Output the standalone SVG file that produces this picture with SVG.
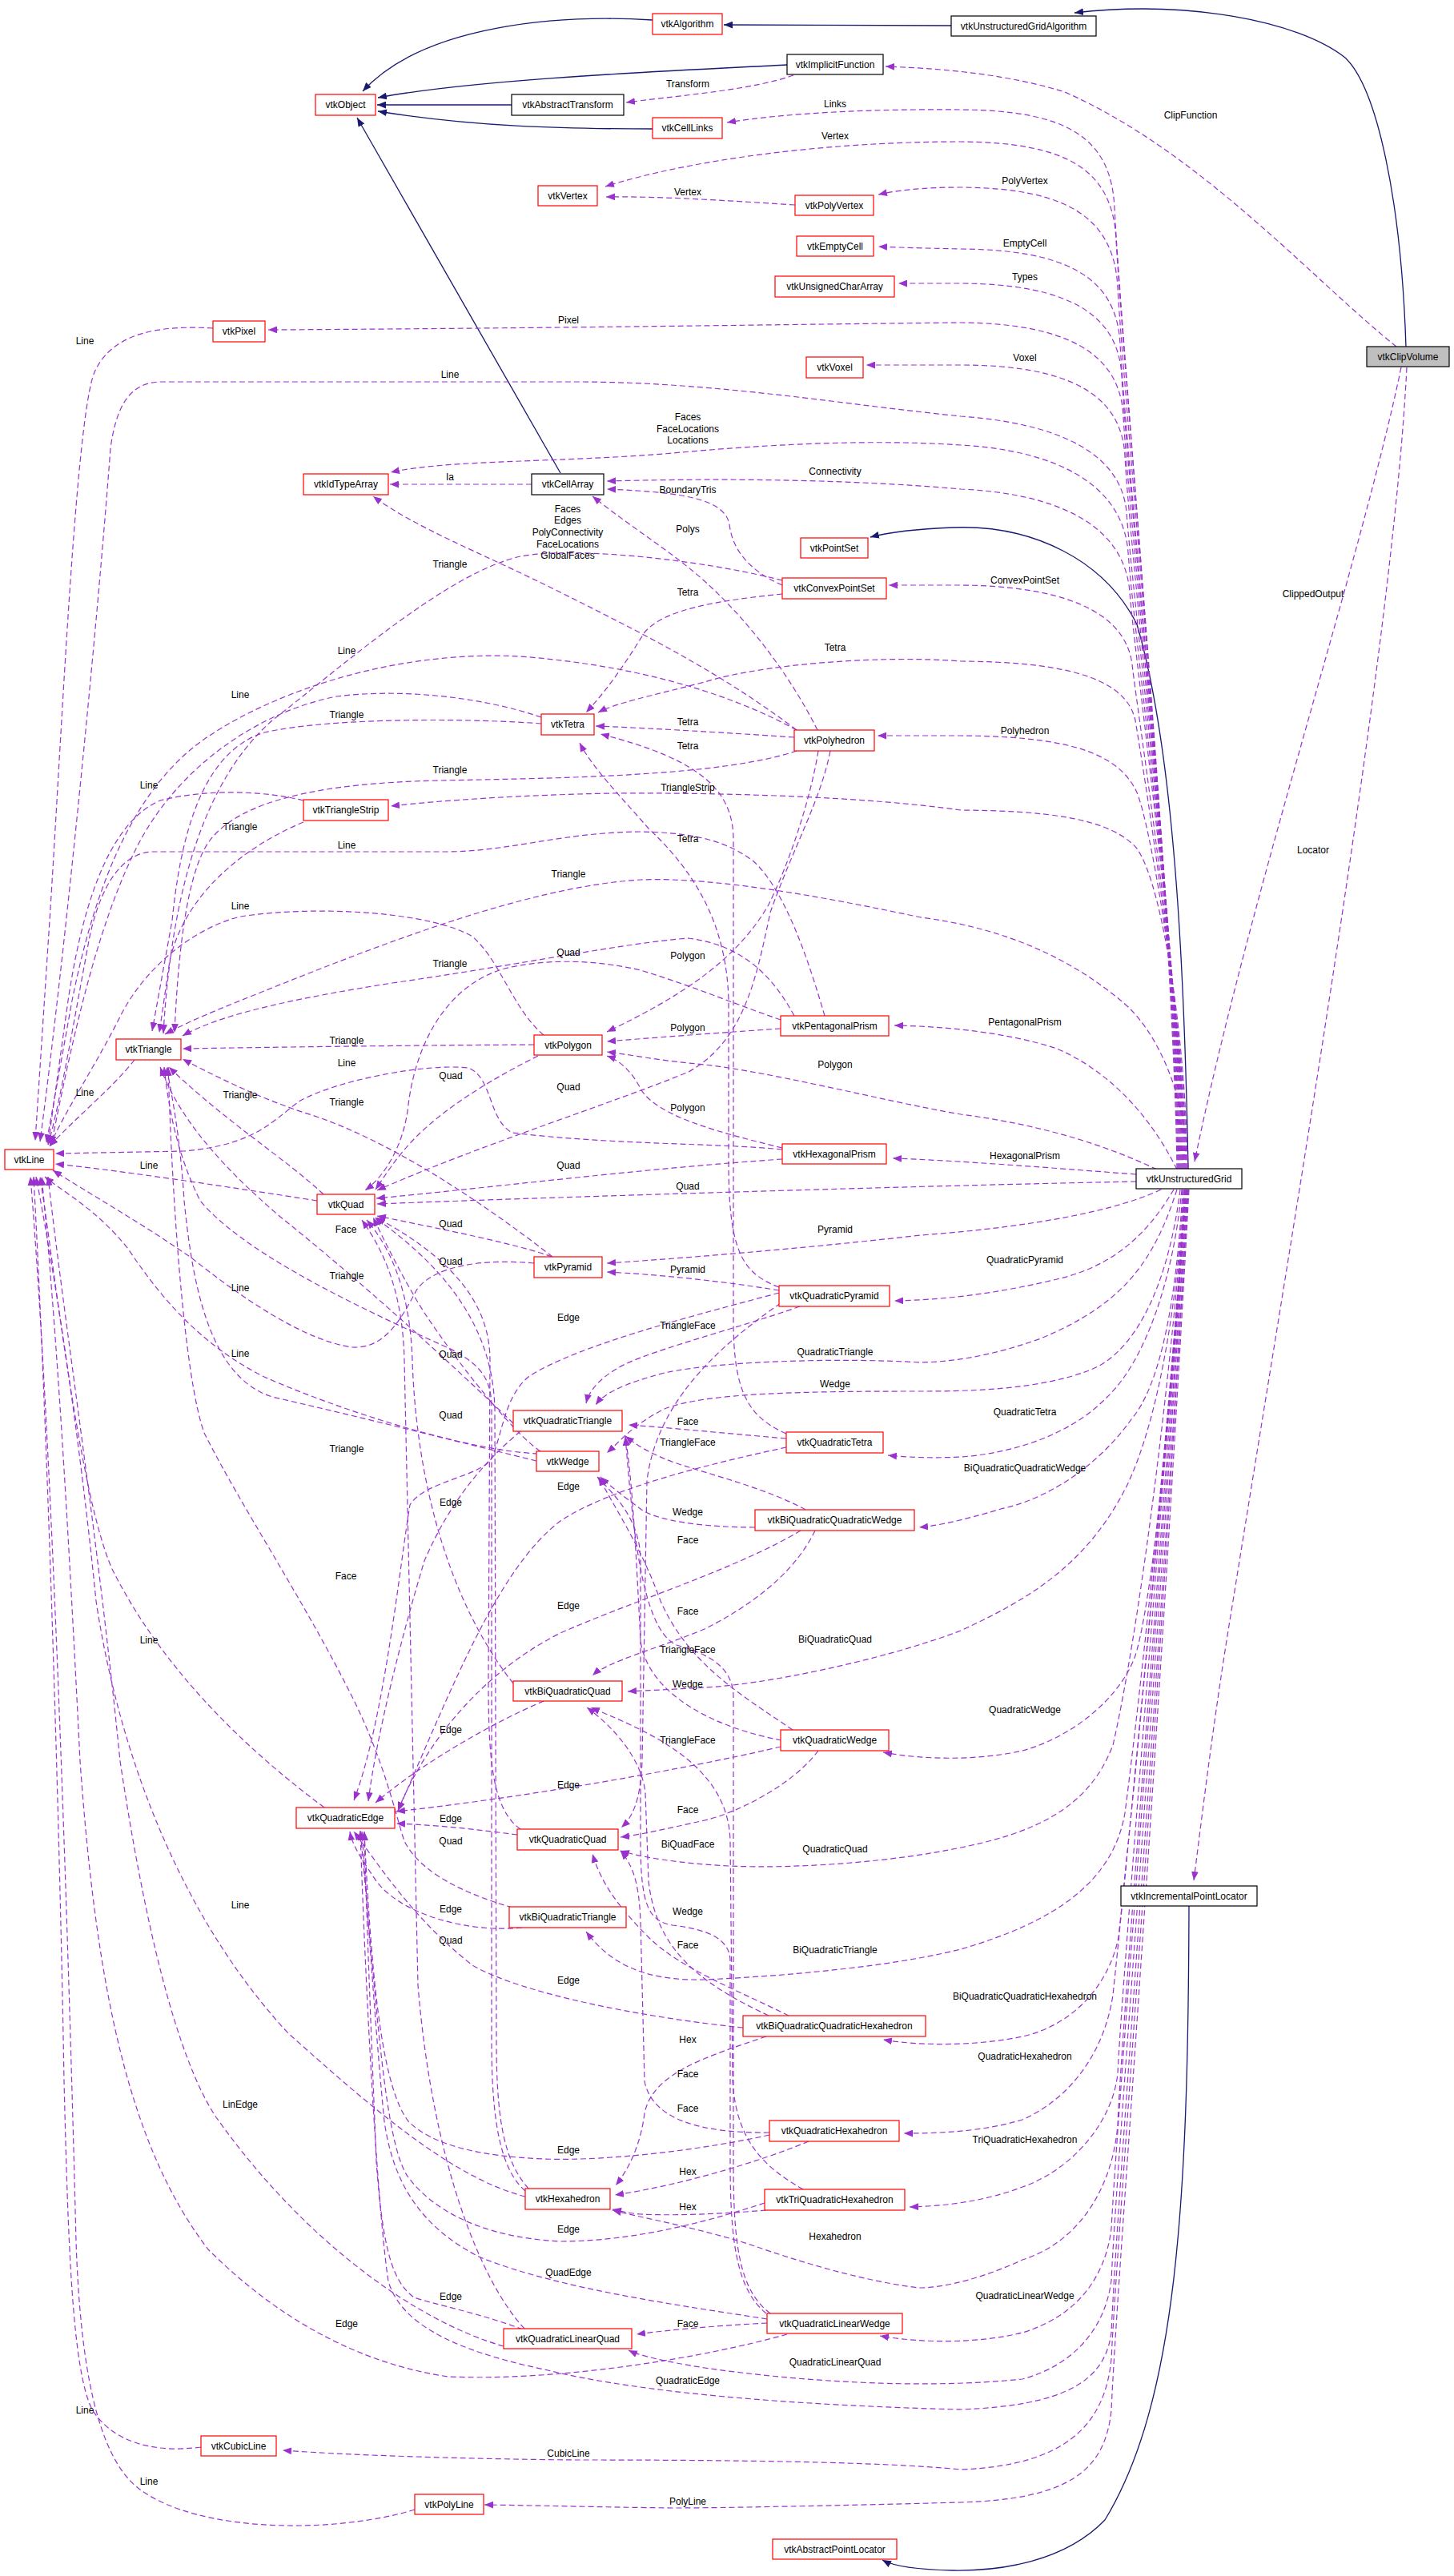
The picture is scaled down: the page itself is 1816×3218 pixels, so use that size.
<svg xmlns="http://www.w3.org/2000/svg" width="1816" height="3218" viewBox="0 0 1816 3218">
<style>
.r{fill:#fff;stroke:#ff0000;stroke-width:1.2}
.k{fill:#fff;stroke:#000;stroke-width:1.2}
.g{fill:#bfbfbf;stroke:#000;stroke-width:1.2}
text{font-family:"Liberation Sans",Arial,sans-serif;font-size:12px;text-anchor:middle;fill:#000}
.d{fill:none;stroke:#9a32cd;stroke-width:1.2;stroke-dasharray:7,4;marker-end:url(#ap)}
.s{fill:none;stroke:#191970;stroke-width:1.3;marker-end:url(#an)}
</style>
<defs>
<marker id="ap" viewBox="0 0 10 8" refX="10" refY="4" markerWidth="11" markerHeight="9" markerUnits="userSpaceOnUse" orient="auto"><path d="M0,0 L10,4 L0,8 z" fill="#9a32cd"/></marker>
<marker id="an" viewBox="0 0 10 8" refX="10" refY="4" markerWidth="11" markerHeight="9" markerUnits="userSpaceOnUse" orient="auto"><path d="M0,0 L10,4 L0,8 z" fill="#191970"/></marker>
</defs>
<rect width="1816" height="3218" fill="#fff"/>
<g id="edges">
<!-- inheritance -->
<path class="s" d="M815,25 C700,18 530,30 453,114"/>
<path class="s" d="M983,81 C850,88 600,98 472,122"/>
<path class="s" d="M639,131 L471,131"/>
<path class="s" d="M815,161 C700,161 590,158 472,139"/>
<path class="s" d="M1188,32 L904,31"/>
<path class="s" d="M1756,433 C1750,250 1720,110 1680,72 C1620,25 1480,0 1342,16"/>
<path class="s" d="M700,591 L446,147"/>
<path class="s" d="M1484,1460 C1480,1250 1470,950 1420,780 C1380,700 1290,655 1190,659 C1140,661 1110,665 1087,671"/>
<path class="s" d="M1485,2381 C1484,2750 1470,3000 1380,3148 C1330,3200 1250,3212 1190,3211 C1140,3210 1115,3205 1102,3198"/>
<!-- ClipVolume -->
<path class="d" d="M1744,433 C1640,350 1500,190 1330,115 C1250,90 1160,85 1106,83"/>
<path class="d" d="M1750,459 C1700,700 1560,1120 1492,1451"/>
<path class="d" d="M1757,459 C1740,800 1620,1500 1540,2000 C1515,2150 1500,2280 1491,2349"/>
<!-- UG upper bundle -->
<path class="d" d="M1470,1460 C1466,1150 1400,420 1392,260 C1388,170 1330,138 1200,137 C1100,136 990,140 908,153"/>
<path class="d" d="M1471,1460 C1467,1150 1402,450 1394,300 C1390,210 1330,178 1200,177 C1030,177 860,200 756,233"/>
<path class="d" d="M1472,1460 C1468,1160 1404,500 1396,360 C1392,270 1330,235 1200,234 C1150,234 1120,238 1097,243"/>
<path class="d" d="M1473,1460 C1469,1170 1406,560 1399,430 C1395,345 1330,312 1200,311 C1150,310 1120,309 1097,308"/>
<path class="d" d="M1474,1460 C1470,1180 1408,600 1401,470 C1397,390 1330,355 1200,354 L1122,354"/>
<path class="d" d="M1475,1460 C1471,1190 1410,650 1403,520 C1399,440 1330,404 1200,403 C1000,405 700,410 335,412"/>
<path class="d" d="M1476,1460 C1472,1200 1412,700 1405,570 C1401,490 1330,456 1200,456 L1082,456"/>
<path class="d" d="M1477,1460 C1473,1210 1414,740 1407,640 C1400,560 1310,528 1200,520 C1050,505 900,478 727,477 L200,477 C160,478 145,510 138,560 C120,800 80,1200 50,1426"/>
<path class="d" d="M1478,1460 C1474,1220 1416,790 1409,690 C1402,600 1310,562 1200,556 C1080,548 950,556 840,566 C700,578 560,574 488,590"/>
<path class="d" d="M1479,1460 C1475,1230 1418,830 1411,740 C1404,650 1310,616 1200,611 C1100,602 950,596 758,601"/>
<path class="d" d="M1480,1460 C1477,1250 1422,900 1414,830 C1405,760 1320,732 1200,731 L1110,731"/>
<path class="d" d="M1481,1460 C1478,1270 1428,960 1418,900 C1405,840 1310,827 1200,826 C1100,818 950,830 880,852 C810,870 770,878 747,890"/>
<path class="d" d="M1482,1460 C1480,1290 1440,1040 1420,990 C1395,935 1320,920 1200,919 L1096,919"/>
<path class="d" d="M1483,1460 C1482,1320 1455,1110 1420,1060 C1385,1020 1300,1013 1200,1012 C1080,995 900,990 765,991 C650,993 550,1000 488,1007"/>
<path class="d" d="M1484,1460 C1483,1380 1450,1290 1400,1250 C1340,1200 1260,1160 1150,1146 C1050,1125 900,1095 800,1099 C650,1108 450,1190 300,1250 C260,1266 228,1280 206,1292"/>
<path class="d" d="M1470,1461 C1440,1400 1390,1340 1320,1310 C1260,1290 1180,1282 1117,1281"/>
<path class="d" d="M1445,1461 C1380,1430 1300,1405 1200,1392 C1100,1375 950,1335 860,1328 C820,1324 790,1318 758,1314"/>
<path class="d" d="M1419,1467 C1300,1458 1200,1450 1115,1447"/>
<path class="d" d="M1419,1476 C1200,1480 700,1495 471,1504"/>
<!-- UG lower bundle -->
<path class="d" d="M1450,1486 C1400,1510 1300,1532 1150,1543 C1000,1560 850,1572 758,1578"/>
<path class="d" d="M1466,1486 C1440,1530 1400,1580 1320,1598 C1250,1615 1180,1624 1117,1625"/>
<path class="d" d="M1470,1486 C1440,1580 1400,1630 1300,1672 C1250,1690 1200,1701 1150,1702 C1050,1696 900,1700 830,1715 C780,1728 755,1740 744,1755"/>
<path class="d" d="M1474,1486 C1460,1600 1420,1690 1360,1712 C1300,1735 1220,1738 1150,1738 C1000,1738 880,1740 830,1760 C790,1780 775,1800 758,1815"/>
<path class="d" d="M1476,1486 C1465,1600 1430,1700 1383,1745 C1340,1790 1270,1815 1200,1820 C1160,1822 1130,1820 1109,1818"/>
<path class="d" d="M1477,1486 C1470,1620 1450,1730 1413,1773 C1380,1820 1320,1870 1250,1885 C1200,1900 1170,1906 1148,1908"/>
<path class="d" d="M1478,1486 C1470,1650 1440,1800 1400,1870 C1350,1960 1280,2000 1200,2037 C1100,2075 950,2105 880,2108 C830,2111 800,2112 784,2113"/>
<path class="d" d="M1479,1486 C1470,1700 1440,2000 1418,2068 C1400,2120 1340,2170 1277,2187 C1220,2200 1150,2198 1103,2189"/>
<path class="d" d="M1480,1486 C1460,1750 1420,2050 1390,2180 C1360,2260 1290,2290 1200,2308 C1120,2325 1000,2335 910,2331 C850,2328 800,2320 775,2312"/>
<path class="d" d="M1480,1486 C1460,1800 1420,2150 1405,2265 C1390,2350 1320,2400 1200,2435 C1100,2460 950,2470 880,2473 C800,2475 760,2450 732,2413"/>
<path class="d" d="M1481,1486 C1455,1850 1410,2300 1397,2420 C1385,2480 1340,2530 1277,2544 C1220,2556 1150,2556 1103,2548"/>
<path class="d" d="M1481,1486 C1450,1900 1400,2400 1390,2492 C1380,2560 1340,2620 1277,2648 C1230,2662 1180,2665 1129,2665"/>
<path class="d" d="M1482,1486 C1445,1950 1400,2500 1396,2590 C1390,2650 1340,2710 1277,2732 C1230,2750 1180,2756 1136,2757"/>
<path class="d" d="M1482,1486 C1445,2000 1400,2550 1396,2654 C1390,2730 1350,2800 1277,2823 C1230,2845 1180,2858 1148,2858 C1080,2850 1000,2826 940,2805 C880,2785 800,2770 765,2761"/>
<path class="d" d="M1483,1486 C1440,2100 1395,2650 1388,2784 C1380,2850 1340,2895 1277,2914 C1220,2928 1150,2927 1099,2918"/>
<path class="d" d="M1483,1486 C1440,2150 1395,2700 1388,2849 C1380,2910 1340,2955 1277,2972 C1150,2985 1000,2975 880,2958 C830,2950 800,2943 785,2936"/>
<path class="d" d="M1484,1486 C1440,2200 1395,2750 1388,2914 C1380,2975 1330,3005 1200,3010 C1000,3005 800,2990 680,2960 C560,2935 500,2900 485,2850 C470,2750 455,2450 450,2287"/>
<path class="d" d="M1484,1486 C1440,2250 1395,2800 1388,2947 C1380,3030 1330,3080 1200,3085 C1100,3075 900,3073 719,3073 C600,3072 450,3068 353,3061"/>
<path class="d" d="M1485,1486 C1440,2300 1395,2850 1388,3011 C1380,3090 1330,3122 1200,3126 C1050,3130 900,3133 842,3133 C750,3132 680,3130 605,3129"/>
<!-- other members -->
<path class="d" d="M991,94 C940,112 860,118 782,128"/>
<path class="d" d="M993,256 C900,250 820,245 757,246"/>
<path class="d" d="M266,410 C200,406 140,415 118,465 C95,520 78,900 62,1150 L44,1425"/>
<path class="d" d="M664,605 L487,605"/>
<path class="d" d="M977,731 C940,715 915,690 911,655 C905,625 860,615 758,611"/>
<path class="d" d="M1021,912 C990,850 940,780 880,726 C840,690 790,660 740,620"/>
<path class="d" d="M995,912 C900,840 800,790 700,740 C600,690 520,660 466,620"/>
<path class="d" d="M977,725 C880,700 720,682 650,695 C560,715 430,830 340,900 C260,970 215,1100 204,1291"/>
<path class="d" d="M977,742 C900,750 830,760 805,790 C780,830 760,860 732,890"/>
<path class="d" d="M995,912 C900,860 780,830 650,820 C500,812 350,860 260,920 C170,980 120,1100 90,1250 L58,1428"/>
<path class="d" d="M676,896 C600,870 500,860 420,870 C320,890 220,960 170,1060 C120,1160 90,1300 64,1430"/>
<path class="d" d="M676,904 C600,898 420,895 330,915 C250,940 225,1050 215,1150 L190,1288"/>
<path class="d" d="M992,921 C900,915 820,910 744,907"/>
<path class="d" d="M982,1791 C935,1770 916,1740 916,1650 L916,1050 C916,990 880,950 750,917"/>
<path class="d" d="M973,1608 C925,1590 910,1560 910,1450 L910,1250 C908,1170 880,1100 810,1035 C780,1000 740,960 724,928"/>
<path class="d" d="M995,938 C900,970 700,972 550,975 C400,978 300,1000 262,1050 C232,1090 222,1200 218,1290"/>
<path class="d" d="M379,1000 C330,988 260,985 200,1000 C130,1030 100,1150 85,1250 L60,1430"/>
<path class="d" d="M379,1027 C300,1060 230,1120 212,1200 L199,1290"/>
<path class="d" d="M1030,1269 C1010,1200 980,1110 940,1075 C900,1045 850,1040 800,1039 C700,1040 640,1063 560,1064 L190,1064 C150,1066 125,1110 112,1170 C95,1260 75,1380 60,1430"/>
<path class="d" d="M992,1269 C960,1210 920,1180 860,1172 C780,1178 650,1205 490,1228 C350,1250 270,1270 228,1294"/>
<path class="d" d="M975,1274 C920,1255 860,1230 800,1212 C740,1198 680,1198 630,1210 C560,1230 520,1300 510,1380 C505,1430 480,1470 456,1487"/>
<path class="d" d="M1037,938 C1025,1000 990,1060 962,1140 C945,1220 930,1300 860,1339 C760,1380 600,1430 471,1487"/>
<path class="d" d="M1022,938 C1012,1000 985,1080 960,1130 C920,1200 850,1245 758,1289"/>
<path class="d" d="M679,1293 C640,1260 625,1200 590,1170 C540,1140 400,1130 300,1145 C240,1160 180,1210 150,1270 C120,1330 80,1390 62,1432"/>
<path class="d" d="M667,1305 C500,1306 350,1308 228,1310"/>
<path class="d" d="M672,1319 C620,1345 560,1380 520,1420 C495,1445 480,1470 469,1486"/>
<path class="d" d="M975,1285 C900,1290 820,1296 758,1301"/>
<path class="d" d="M977,1434 C900,1415 820,1395 800,1360 C790,1340 775,1325 758,1319"/>
<path class="d" d="M977,1436 C900,1428 760,1430 640,1415 C610,1400 615,1345 585,1334 C530,1328 420,1350 375,1375 C340,1400 320,1430 230,1438 L69,1441"/>
<path class="d" d="M977,1448 C800,1460 600,1485 470,1497"/>
<path class="d" d="M168,1324 C140,1360 90,1400 62,1432"/>
<path class="d" d="M396,1500 C300,1485 150,1462 69,1454"/>
<path class="d" d="M404,1492 C360,1450 280,1400 211,1333"/>
<path class="d" d="M689,1570 C650,1555 550,1535 471,1519"/>
<path class="d" d="M690,1570 C600,1500 480,1420 380,1390 C320,1370 270,1345 228,1323"/>
<path class="d" d="M667,1578 C600,1572 540,1582 520,1612 C500,1650 480,1685 440,1683 C380,1675 300,1620 240,1572 C180,1530 110,1490 66,1462"/>
<path class="d" d="M973,1612 C900,1600 820,1592 758,1589"/>
<path class="d" d="M999,1632 C920,1660 800,1690 770,1710 C745,1725 735,1740 732,1753"/>
<path class="d" d="M973,1615 C880,1640 720,1680 660,1720 C630,1745 628,1790 614,1822 C600,1845 530,1850 512,1880 C500,1950 480,2150 442,2249"/>
<path class="d" d="M670,1825 C600,1808 450,1770 340,1745 C260,1720 240,1600 230,1500 C225,1420 215,1370 208,1333"/>
<path class="d" d="M672,1816 C580,1812 420,1760 330,1720 C250,1680 200,1620 160,1560 C120,1510 80,1490 56,1470"/>
<path class="d" d="M675,1813 C640,1790 570,1700 530,1640 C505,1600 485,1560 466,1521"/>
<path class="d" d="M641,1778 C560,1700 450,1600 350,1520 C280,1460 225,1400 200,1333"/>
<path class="d" d="M650,1788 C600,1830 560,1880 530,1950 C500,2050 470,2170 460,2250"/>
<path class="d" d="M982,1797 C900,1790 830,1783 785,1780"/>
<path class="d" d="M982,1808 C880,1830 760,1860 700,1900 C620,1960 560,2120 497,2262"/>
<path class="d" d="M1006,1886 C960,1860 880,1840 842,1827 C810,1815 795,1805 781,1794"/>
<path class="d" d="M943,1908 C880,1908 820,1900 800,1885 C780,1870 760,1855 750,1845"/>
<path class="d" d="M1018,1912 C990,1970 930,2010 880,2035 C820,2060 760,2075 740,2093"/>
<path class="d" d="M1000,1912 C920,1960 790,2000 700,2040 C600,2090 530,2180 497,2262"/>
<path class="d" d="M975,1628 C900,1680 820,1750 808,1850 L802,2200 C800,2250 790,2270 776,2283"/>
<path class="d" d="M641,2103 C560,2000 520,1850 515,1700 C512,1600 480,1550 458,1524"/>
<path class="d" d="M679,2125 C620,2150 530,2200 469,2252"/>
<path class="d" d="M976,2174 C900,2160 810,2120 800,2050 C795,1950 790,1850 781,1795"/>
<path class="d" d="M990,2161 C930,2120 860,2080 825,2000 C800,1930 765,1880 748,1845"/>
<path class="d" d="M1022,2187 C990,2230 920,2265 880,2274 C830,2285 800,2292 775,2295"/>
<path class="d" d="M975,2182 C900,2200 700,2240 495,2263"/>
<path class="d" d="M646,2292 C600,2286 550,2280 495,2278"/>
<path class="d" d="M650,2285 C615,2260 610,2200 610,2100 L612,1700 C612,1640 580,1580 470,1521"/>
<path class="d" d="M652,2408 C580,2415 500,2390 470,2350 C450,2320 440,2305 437,2288"/>
<path class="d" d="M640,2383 C560,2360 520,2330 505,2300 C495,2270 480,2200 440,2120 C380,2000 300,1880 255,1790 C230,1720 215,1500 210,1333"/>
<path class="d" d="M960,2518 C880,2480 820,2440 810,2350 L806,2240 C802,2200 770,2160 733,2133"/>
<path class="d" d="M985,2518 C930,2490 850,2460 810,2420 C770,2380 750,2350 740,2316"/>
<path class="d" d="M928,2533 C800,2520 650,2490 590,2455 C520,2400 480,2340 442,2288"/>
<path class="d" d="M957,2544 C880,2570 815,2590 805,2640 C800,2680 785,2710 769,2730"/>
<path class="d" d="M961,2664 C880,2665 815,2650 805,2600 L800,2400 C798,2350 790,2330 775,2312"/>
<path class="d" d="M1010,2675 C950,2700 850,2730 768,2742"/>
<path class="d" d="M961,2667 C880,2685 760,2700 680,2697 C600,2694 540,2680 510,2650 C480,2610 465,2500 455,2288"/>
<path class="d" d="M1003,2735 C960,2710 920,2680 915,2600 L912,2300 C910,2200 800,2160 738,2133"/>
<path class="d" d="M957,2761 C900,2766 840,2768 800,2766 C785,2765 775,2762 765,2760"/>
<path class="d" d="M955,2752 C900,2770 800,2800 700,2800 C600,2795 540,2760 510,2720 C480,2680 470,2500 450,2288"/>
<path class="d" d="M656,2744 C560,2720 450,2620 360,2540 C230,2400 150,2200 120,2000 C100,1800 70,1600 45,1470"/>
<path class="d" d="M660,2734 C630,2700 620,2650 620,2550 L618,1760 C616,1680 580,1600 468,1521"/>
<path class="d" d="M656,2737 C625,2710 614,2650 614,2550 L614,1760 C614,1720 600,1700 540,1675 C420,1620 300,1560 250,1500 C220,1440 210,1380 205,1333"/>
<path class="d" d="M957,2890 C920,2860 912,2800 912,2700 L912,2450 C912,2420 880,2410 840,2405 C810,2400 800,2380 800,2300 L800,1950 C800,1900 770,1870 746,1845"/>
<path class="d" d="M962,2890 C922,2860 916,2800 916,2700 L916,2120 C916,2080 880,2065 845,2055 C800,2035 790,1900 781,1795"/>
<path class="d" d="M958,2902 C900,2905 840,2910 795,2916"/>
<path class="d" d="M958,2897 C850,2880 700,2860 600,2820 C520,2780 490,2720 480,2650 C470,2550 460,2400 452,2288"/>
<path class="d" d="M983,2916 C880,2945 700,2975 560,2969 C430,2950 330,2880 260,2810 C160,2680 120,2480 100,2200 C85,1900 70,1650 52,1470"/>
<path class="d" d="M653,2910 C600,2890 540,2878 517,2870 C490,2850 478,2810 470,2700 C462,2500 458,2400 455,2288"/>
<path class="d" d="M629,2931 C520,2900 380,2800 270,2645 C220,2570 180,2400 150,2200 C120,1900 80,1650 60,1470"/>
<path class="d" d="M655,2909 C600,2850 540,2700 522,2480 L505,1700 C503,1600 470,1550 452,1524"/>
<path class="d" d="M405,2258 C300,2180 200,2080 140,1960 C100,1870 70,1600 50,1470"/>
<path class="d" d="M251,3057 C190,3065 140,3050 115,3010 C90,2960 85,2800 80,2600 C75,2300 60,1800 42,1470"/>
<path class="d" d="M518,3135 C420,3165 250,3165 175,3110 C120,3070 100,2950 95,2800 C85,2400 65,1800 38,1470"/>
</g>
<g id="labels">
<text x="1487" y="148">ClipFunction</text>
<text x="1640" y="746">ClippedOutput</text>
<text x="1640" y="1066">Locator</text>
<text x="859" y="109">Transform</text>
<text x="1043" y="134">Links</text>
<text x="1043" y="174">Vertex</text>
<text x="859" y="244">Vertex</text>
<text x="1280" y="230">PolyVertex</text>
<text x="1280" y="308">EmptyCell</text>
<text x="1280" y="350">Types</text>
<text x="710" y="404">Pixel</text>
<text x="106" y="430">Line</text>
<text x="1280" y="451">Voxel</text>
<text x="562" y="472">Line</text>
<text x="859" y="525">Faces</text>
<text x="859" y="540">FaceLocations</text>
<text x="859" y="554">Locations</text>
<text x="1043" y="593">Connectivity</text>
<text x="562" y="600">Ia</text>
<text x="859" y="616">BoundaryTris</text>
<text x="709" y="640">Faces</text>
<text x="709" y="654">Edges</text>
<text x="709" y="669">PolyConnectivity</text>
<text x="709" y="684">FaceLocations</text>
<text x="709" y="698">GlobalFaces</text>
<text x="859" y="665">Polys</text>
<text x="562" y="709">Triangle</text>
<text x="1280" y="729">ConvexPointSet</text>
<text x="859" y="744">Tetra</text>
<text x="1043" y="813">Tetra</text>
<text x="433" y="817">Line</text>
<text x="300" y="872">Line</text>
<text x="433" y="897">Triangle</text>
<text x="859" y="906">Tetra</text>
<text x="1280" y="917">Polyhedron</text>
<text x="859" y="936">Tetra</text>
<text x="562" y="966">Triangle</text>
<text x="186" y="985">Line</text>
<text x="859" y="988">TriangleStrip</text>
<text x="300" y="1037">Triangle</text>
<text x="859" y="1052">Tetra</text>
<text x="433" y="1060">Line</text>
<text x="710" y="1096">Triangle</text>
<text x="300" y="1136">Line</text>
<text x="710" y="1194">Quad</text>
<text x="859" y="1198">Polygon</text>
<text x="562" y="1208">Triangle</text>
<text x="1280" y="1281">PentagonalPrism</text>
<text x="859" y="1288">Polygon</text>
<text x="433" y="1304">Triangle</text>
<text x="433" y="1332">Line</text>
<text x="1043" y="1334">Polygon</text>
<text x="563" y="1348">Quad</text>
<text x="710" y="1362">Quad</text>
<text x="106" y="1369">Line</text>
<text x="300" y="1372">Triangle</text>
<text x="433" y="1381">Triangle</text>
<text x="859" y="1388">Polygon</text>
<text x="1280" y="1448">HexagonalPrism</text>
<text x="710" y="1460">Quad</text>
<text x="186" y="1460">Line</text>
<text x="859" y="1486">Quad</text>
<text x="563" y="1533">Quad</text>
<text x="1043" y="1540">Pyramid</text>
<text x="432" y="1540">Face</text>
<text x="1280" y="1578">QuadraticPyramid</text>
<text x="563" y="1580">Quad</text>
<text x="859" y="1590">Pyramid</text>
<text x="433" y="1598">Triangle</text>
<text x="300" y="1613">Line</text>
<text x="710" y="1650">Edge</text>
<text x="859" y="1660">TriangleFace</text>
<text x="1043" y="1693">QuadraticTriangle</text>
<text x="300" y="1695">Line</text>
<text x="563" y="1696">Quad</text>
<text x="1043" y="1733">Wedge</text>
<text x="1280" y="1768">QuadraticTetra</text>
<text x="563" y="1772">Quad</text>
<text x="859" y="1780">Face</text>
<text x="859" y="1806">TriangleFace</text>
<text x="433" y="1814">Triangle</text>
<text x="1280" y="1838">BiQuadraticQuadraticWedge</text>
<text x="710" y="1861">Edge</text>
<text x="563" y="1881">Edge</text>
<text x="859" y="1893">Wedge</text>
<text x="859" y="1928">Face</text>
<text x="432" y="1973">Face</text>
<text x="710" y="2010">Edge</text>
<text x="859" y="2017">Face</text>
<text x="1043" y="2052">BiQuadraticQuad</text>
<text x="186" y="2053">Line</text>
<text x="859" y="2065">TriangleFace</text>
<text x="859" y="2108">Wedge</text>
<text x="1280" y="2140">QuadraticWedge</text>
<text x="563" y="2165">Edge</text>
<text x="859" y="2178">TriangleFace</text>
<text x="710" y="2234">Edge</text>
<text x="859" y="2265">Face</text>
<text x="563" y="2276">Edge</text>
<text x="563" y="2304">Quad</text>
<text x="859" y="2308">BiQuadFace</text>
<text x="1043" y="2314">QuadraticQuad</text>
<text x="300" y="2384">Line</text>
<text x="563" y="2389">Edge</text>
<text x="859" y="2392">Wedge</text>
<text x="563" y="2428">Quad</text>
<text x="859" y="2434">Face</text>
<text x="1043" y="2440">BiQuadraticTriangle</text>
<text x="710" y="2478">Edge</text>
<text x="1280" y="2498">BiQuadraticQuadraticHexahedron</text>
<text x="859" y="2552">Hex</text>
<text x="1280" y="2573">QuadraticHexahedron</text>
<text x="859" y="2595">Face</text>
<text x="300" y="2633">LinEdge</text>
<text x="859" y="2638">Face</text>
<text x="1280" y="2677">TriQuadraticHexahedron</text>
<text x="710" y="2690">Edge</text>
<text x="859" y="2717">Hex</text>
<text x="859" y="2761">Hex</text>
<text x="710" y="2789">Edge</text>
<text x="1043" y="2798">Hexahedron</text>
<text x="710" y="2843">QuadEdge</text>
<text x="1280" y="2872">QuadraticLinearWedge</text>
<text x="563" y="2873">Edge</text>
<text x="859" y="2907">Face</text>
<text x="433" y="2907">Edge</text>
<text x="1043" y="2955">QuadraticLinearQuad</text>
<text x="859" y="2978">QuadraticEdge</text>
<text x="106" y="3015">Line</text>
<text x="710" y="3069">CubicLine</text>
<text x="186" y="3104">Line</text>
<text x="859" y="3129">PolyLine</text>
</g>
<g id="nodes">
<g id="vtkAlgorithm"><rect class="r" x="815" y="17" width="87" height="26"/><text x="858.5" y="34">vtkAlgorithm</text></g>
<g id="vtkUnstructuredGridAlgorithm"><rect class="k" x="1188" y="20" width="181" height="25"/><text x="1278.5" y="36.5">vtkUnstructuredGridAlgorithm</text></g>
<g id="vtkImplicitFunction"><rect class="k" x="983" y="68" width="120" height="25"/><text x="1043" y="84.5">vtkImplicitFunction</text></g>
<g id="vtkObject"><rect class="r" x="394" y="118" width="75" height="26"/><text x="431.5" y="135">vtkObject</text></g>
<g id="vtkAbstractTransform"><rect class="k" x="639" y="118" width="140" height="26"/><text x="709" y="135">vtkAbstractTransform</text></g>
<g id="vtkCellLinks"><rect class="r" x="815" y="147" width="87" height="26"/><text x="858.5" y="164">vtkCellLinks</text></g>
<g id="vtkVertex"><rect class="r" x="672" y="232" width="74" height="25"/><text x="709" y="248.5">vtkVertex</text></g>
<g id="vtkPolyVertex"><rect class="r" x="993" y="244" width="98" height="25"/><text x="1042" y="260.5">vtkPolyVertex</text></g>
<g id="vtkEmptyCell"><rect class="r" x="995" y="295" width="96" height="25"/><text x="1043" y="311.5">vtkEmptyCell</text></g>
<g id="vtkUnsignedCharArray"><rect class="r" x="968" y="345" width="149" height="26"/><text x="1042.5" y="362">vtkUnsignedCharArray</text></g>
<g id="vtkPixel"><rect class="r" x="266" y="401" width="65" height="26"/><text x="298.5" y="418">vtkPixel</text></g>
<g id="vtkClipVolume"><rect class="g" x="1707" y="433" width="103" height="25"/><text x="1758.5" y="449.5">vtkClipVolume</text></g>
<g id="vtkVoxel"><rect class="r" x="1007" y="446" width="71" height="26"/><text x="1042.5" y="463">vtkVoxel</text></g>
<g id="vtkIdTypeArray"><rect class="r" x="379" y="592" width="106" height="26"/><text x="432" y="609">vtkIdTypeArray</text></g>
<g id="vtkCellArray"><rect class="k" x="664" y="592" width="90" height="26"/><text x="709" y="609">vtkCellArray</text></g>
<g id="vtkPointSet"><rect class="r" x="1000" y="672" width="84" height="25"/><text x="1042" y="688.5">vtkPointSet</text></g>
<g id="vtkConvexPointSet"><rect class="r" x="977" y="722" width="130" height="26"/><text x="1042" y="739">vtkConvexPointSet</text></g>
<g id="vtkTetra"><rect class="r" x="676" y="892" width="66" height="26"/><text x="709" y="909">vtkTetra</text></g>
<g id="vtkPolyhedron"><rect class="r" x="992" y="912" width="100" height="26"/><text x="1042" y="929">vtkPolyhedron</text></g>
<g id="vtkTriangleStrip"><rect class="r" x="379" y="999" width="106" height="26"/><text x="432" y="1016">vtkTriangleStrip</text></g>
<g id="vtkPentagonalPrism"><rect class="r" x="975" y="1269" width="135" height="25"/><text x="1042.5" y="1285.5">vtkPentagonalPrism</text></g>
<g id="vtkPolygon"><rect class="r" x="667" y="1293" width="85" height="25"/><text x="709.5" y="1309.5">vtkPolygon</text></g>
<g id="vtkTriangle"><rect class="r" x="145" y="1298" width="81" height="26"/><text x="185.5" y="1315">vtkTriangle</text></g>
<g id="vtkHexagonalPrism"><rect class="r" x="977" y="1429" width="130" height="25"/><text x="1042" y="1445.5">vtkHexagonalPrism</text></g>
<g id="vtkLine"><rect class="r" x="6" y="1436" width="61" height="25"/><text x="36.5" y="1452.5">vtkLine</text></g>
<g id="vtkUnstructuredGrid"><rect class="k" x="1419" y="1460" width="132" height="25"/><text x="1485" y="1476.5">vtkUnstructuredGrid</text></g>
<g id="vtkQuad"><rect class="r" x="396" y="1492" width="72" height="25"/><text x="432" y="1508.5">vtkQuad</text></g>
<g id="vtkPyramid"><rect class="r" x="667" y="1570" width="85" height="26"/><text x="709.5" y="1587">vtkPyramid</text></g>
<g id="vtkQuadraticPyramid"><rect class="r" x="973" y="1606" width="138" height="26"/><text x="1042" y="1623">vtkQuadraticPyramid</text></g>
<g id="vtkQuadraticTriangle"><rect class="r" x="641" y="1762" width="136" height="26"/><text x="709" y="1779">vtkQuadraticTriangle</text></g>
<g id="vtkQuadraticTetra"><rect class="r" x="982" y="1789" width="121" height="26"/><text x="1042.5" y="1806">vtkQuadraticTetra</text></g>
<g id="vtkWedge"><rect class="r" x="670" y="1813" width="78" height="25"/><text x="709" y="1829.5">vtkWedge</text></g>
<g id="vtkBiQuadraticQuadraticWedge"><rect class="r" x="943" y="1886" width="199" height="26"/><text x="1042.5" y="1903">vtkBiQuadraticQuadraticWedge</text></g>
<g id="vtkBiQuadraticQuad"><rect class="r" x="641" y="2100" width="136" height="25"/><text x="709" y="2116.5">vtkBiQuadraticQuad</text></g>
<g id="vtkQuadraticWedge"><rect class="r" x="975" y="2161" width="135" height="26"/><text x="1042.5" y="2178">vtkQuadraticWedge</text></g>
<g id="vtkQuadraticEdge"><rect class="r" x="370" y="2258" width="123" height="26"/><text x="431.5" y="2275">vtkQuadraticEdge</text></g>
<g id="vtkQuadraticQuad"><rect class="r" x="646" y="2285" width="126" height="26"/><text x="709" y="2302">vtkQuadraticQuad</text></g>
<g id="vtkIncrementalPointLocator"><rect class="k" x="1400" y="2356" width="170" height="25"/><text x="1485" y="2372.5">vtkIncrementalPointLocator</text></g>
<g id="vtkBiQuadraticTriangle"><rect class="r" x="636" y="2382" width="146" height="26"/><text x="709" y="2399">vtkBiQuadraticTriangle</text></g>
<g id="vtkBiQuadraticQuadraticHexahedron"><rect class="r" x="928" y="2518" width="228" height="26"/><text x="1042" y="2535">vtkBiQuadraticQuadraticHexahedron</text></g>
<g id="vtkQuadraticHexahedron"><rect class="r" x="961" y="2649" width="162" height="26"/><text x="1042" y="2666">vtkQuadraticHexahedron</text></g>
<g id="vtkHexahedron"><rect class="r" x="656" y="2734" width="106" height="26"/><text x="709" y="2751">vtkHexahedron</text></g>
<g id="vtkTriQuadraticHexahedron"><rect class="r" x="955" y="2735" width="175" height="26"/><text x="1042.5" y="2752">vtkTriQuadraticHexahedron</text></g>
<g id="vtkQuadraticLinearWedge"><rect class="r" x="958" y="2890" width="169" height="25"/><text x="1042.5" y="2906.5">vtkQuadraticLinearWedge</text></g>
<g id="vtkQuadraticLinearQuad"><rect class="r" x="629" y="2909" width="160" height="25"/><text x="709" y="2925.5">vtkQuadraticLinearQuad</text></g>
<g id="vtkCubicLine"><rect class="r" x="251" y="3043" width="94" height="25"/><text x="298" y="3059.5">vtkCubicLine</text></g>
<g id="vtkPolyLine"><rect class="r" x="518" y="3116" width="86" height="25"/><text x="561" y="3132.5">vtkPolyLine</text></g>
<g id="vtkAbstractPointLocator"><rect class="r" x="965" y="3172" width="155" height="25"/><text x="1042.5" y="3188.5">vtkAbstractPointLocator</text></g>
</g>
</svg>
